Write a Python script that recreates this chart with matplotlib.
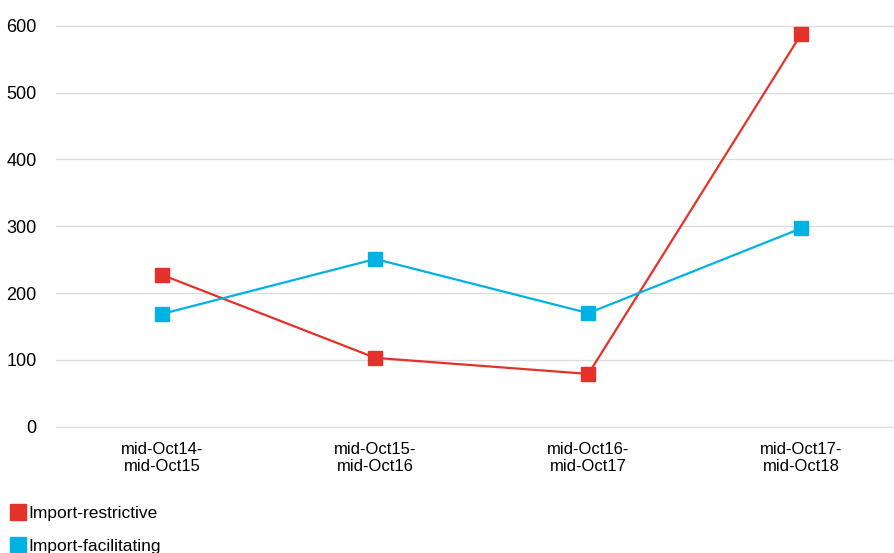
import matplotlib.pyplot as plt
from matplotlib.lines import Line2D

plt.rcParams['font.family'] = ['Liberation Sans', 'DejaVu Sans']

# Data
periods = ['mid-Oct14-\nmid-Oct15', 'mid-Oct15-\nmid-Oct16',
           'mid-Oct16-\nmid-Oct17', 'mid-Oct17-\nmid-Oct18']
restrictive = [227, 103, 79, 588]
facilitating = [169, 251, 170, 297]
y_ticks = [0, 100, 200, 300, 400, 500, 600]

red = '#e4322b'
blue = '#00b2e3'

fig = plt.figure(figsize=(8.95, 5.53), dpi=100)
ax = fig.add_axes([0.0626, 0.2260, 0.9374, 0.7296])

x = list(range(len(periods)))
ax.plot(x, restrictive, color=red, lw=1.6, marker='s', ms=10.5,
        clip_on=False, zorder=3)
ax.plot(x, facilitating, color=blue, lw=1.6, marker='s', ms=10.5,
        clip_on=False, zorder=3)

ax.set_xlim(-0.5, 3.44)
ax.set_ylim(-2, 602)
ax.set_yticks(y_ticks)
ax.set_xticks(x, periods)
ax.yaxis.grid(True, color='#dcdcdc', lw=1)
ax.set_axisbelow(True)
for s in ax.spines.values():
    s.set_visible(False)
ax.tick_params(axis='both', length=0)
ax.tick_params(axis='x', labelsize=12, pad=10)
ax.tick_params(axis='y', labelsize=13, pad=14)

# Legend in the lower left corner
handles = [Line2D([], [], ls='none', marker='s', ms=11, color=red),
           Line2D([], [], ls='none', marker='s', ms=11, color=blue)]
fig.legend(handles, ['Import-restrictive', 'Import-facilitating'],
           loc='lower left', bbox_to_anchor=(0.005, -0.014), frameon=False,
           fontsize=12.5, handlelength=0.8, handletextpad=0.2,
           labelspacing=1.0, borderaxespad=0)

fig.savefig('out.png', dpi=100)
